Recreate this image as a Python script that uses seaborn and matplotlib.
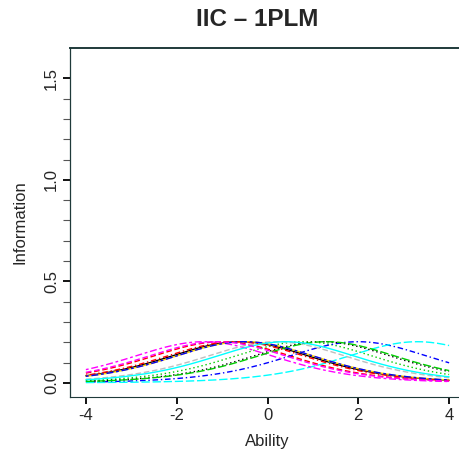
import numpy as np
import pandas as pd
import matplotlib
matplotlib.use("Agg")
import matplotlib.pyplot as plt
import seaborn as sns

# Item difficulties (1PL model, common discrimination)
items = ["I1", "I2", "I3", "I4", "I5", "I6", "I7",
         "I8", "I9", "I10", "I11", "I12", "I13", "I14"]
difficulty = [-0.6, -1.0, 0.8, 2.0, 3.3, -1.4, -0.5,
              0.2, 1.2, -0.7, 1.3, -0.5, 0.4, -1.1]
discrimination = 0.9
item_colors = ["black", "red", "#00CD00", "blue", "cyan", "magenta", "#FFD700",
               "#BEBEBE", "black", "red", "#00CD00", "blue", "cyan", "magenta"]
item_dashes = ["", (4, 2), (1, 2), (1, 2, 4, 2), (6, 2), (2, 2, 5, 2), "",
               (4, 2), (1, 2), (1, 2, 4, 2), (6, 2), (2, 2, 5, 2), "", (4, 2)]
x_ticks = [-4, -2, 0, 2, 4]
y_ticks = [0.0, 0.5, 1.0, 1.5]
y_tick_labels = ["0.0", "0.5", "1.0", "1.5"]

theta = np.linspace(-4, 4, 161)
rows = []
for name, b in zip(items, difficulty):
    p = 1.0 / (1.0 + np.exp(-discrimination * (theta - b)))
    info = discrimination ** 2 * p * (1 - p)
    rows.append(pd.DataFrame({"Ability": theta, "Information": info, "item": name}))
df = pd.concat(rows, ignore_index=True)

sns.set_theme(style="white")
plt.rcParams["font.family"] = ["Liberation Sans", "DejaVu Sans"]

fig = plt.figure(figsize=(4.59, 4.57), dpi=100)
ax = fig.add_axes([70 / 459, 1 - 397 / 457, 395 / 459, (397 - 48) / 457])

sns.lineplot(data=df, x="Ability", y="Information", hue="item", style="item",
             palette=dict(zip(items, item_colors)),
             dashes=dict(zip(items, item_dashes)),
             linewidth=1.0, legend=False, ax=ax)

ax.set_xlim(-4.35, 4.35)
ax.set_ylim(-0.07, 1.65)
ax.set_xticks(x_ticks)
ax.set_xticklabels([str(v) for v in x_ticks], fontsize=12)
ax.set_yticks(y_ticks)
ax.set_yticklabels(y_tick_labels, fontsize=12, rotation=90, va="center")
ax.set_yticks(np.arange(0, 1.6, 0.1), minor=True)
ax.tick_params(axis="both", which="major", direction="out", length=5, width=1.3,
               color="black", bottom=True, left=True, pad=3)
ax.tick_params(axis="y", which="minor", direction="out", length=5, width=0.8,
               color="#555555", left=True)
ax.set_xlabel("Ability", fontsize=12, labelpad=8)
ax.set_ylabel("Information", fontsize=12, labelpad=12)

spine_col = "#1f3a3a"
for s in ["left", "top", "bottom"]:
    ax.spines[s].set_color(spine_col)
ax.spines["top"].set_linewidth(1.4)
ax.spines["left"].set_linewidth(0.9)
ax.spines["bottom"].set_linewidth(0.8)
ax.spines["right"].set_visible(False)

fig.text(257 / 459, 1 - 20 / 457, "IIC \u2013 1PLM", ha="center", va="center",
         fontsize=17.5, fontweight="bold")

fig.savefig("out.png", dpi=100)
